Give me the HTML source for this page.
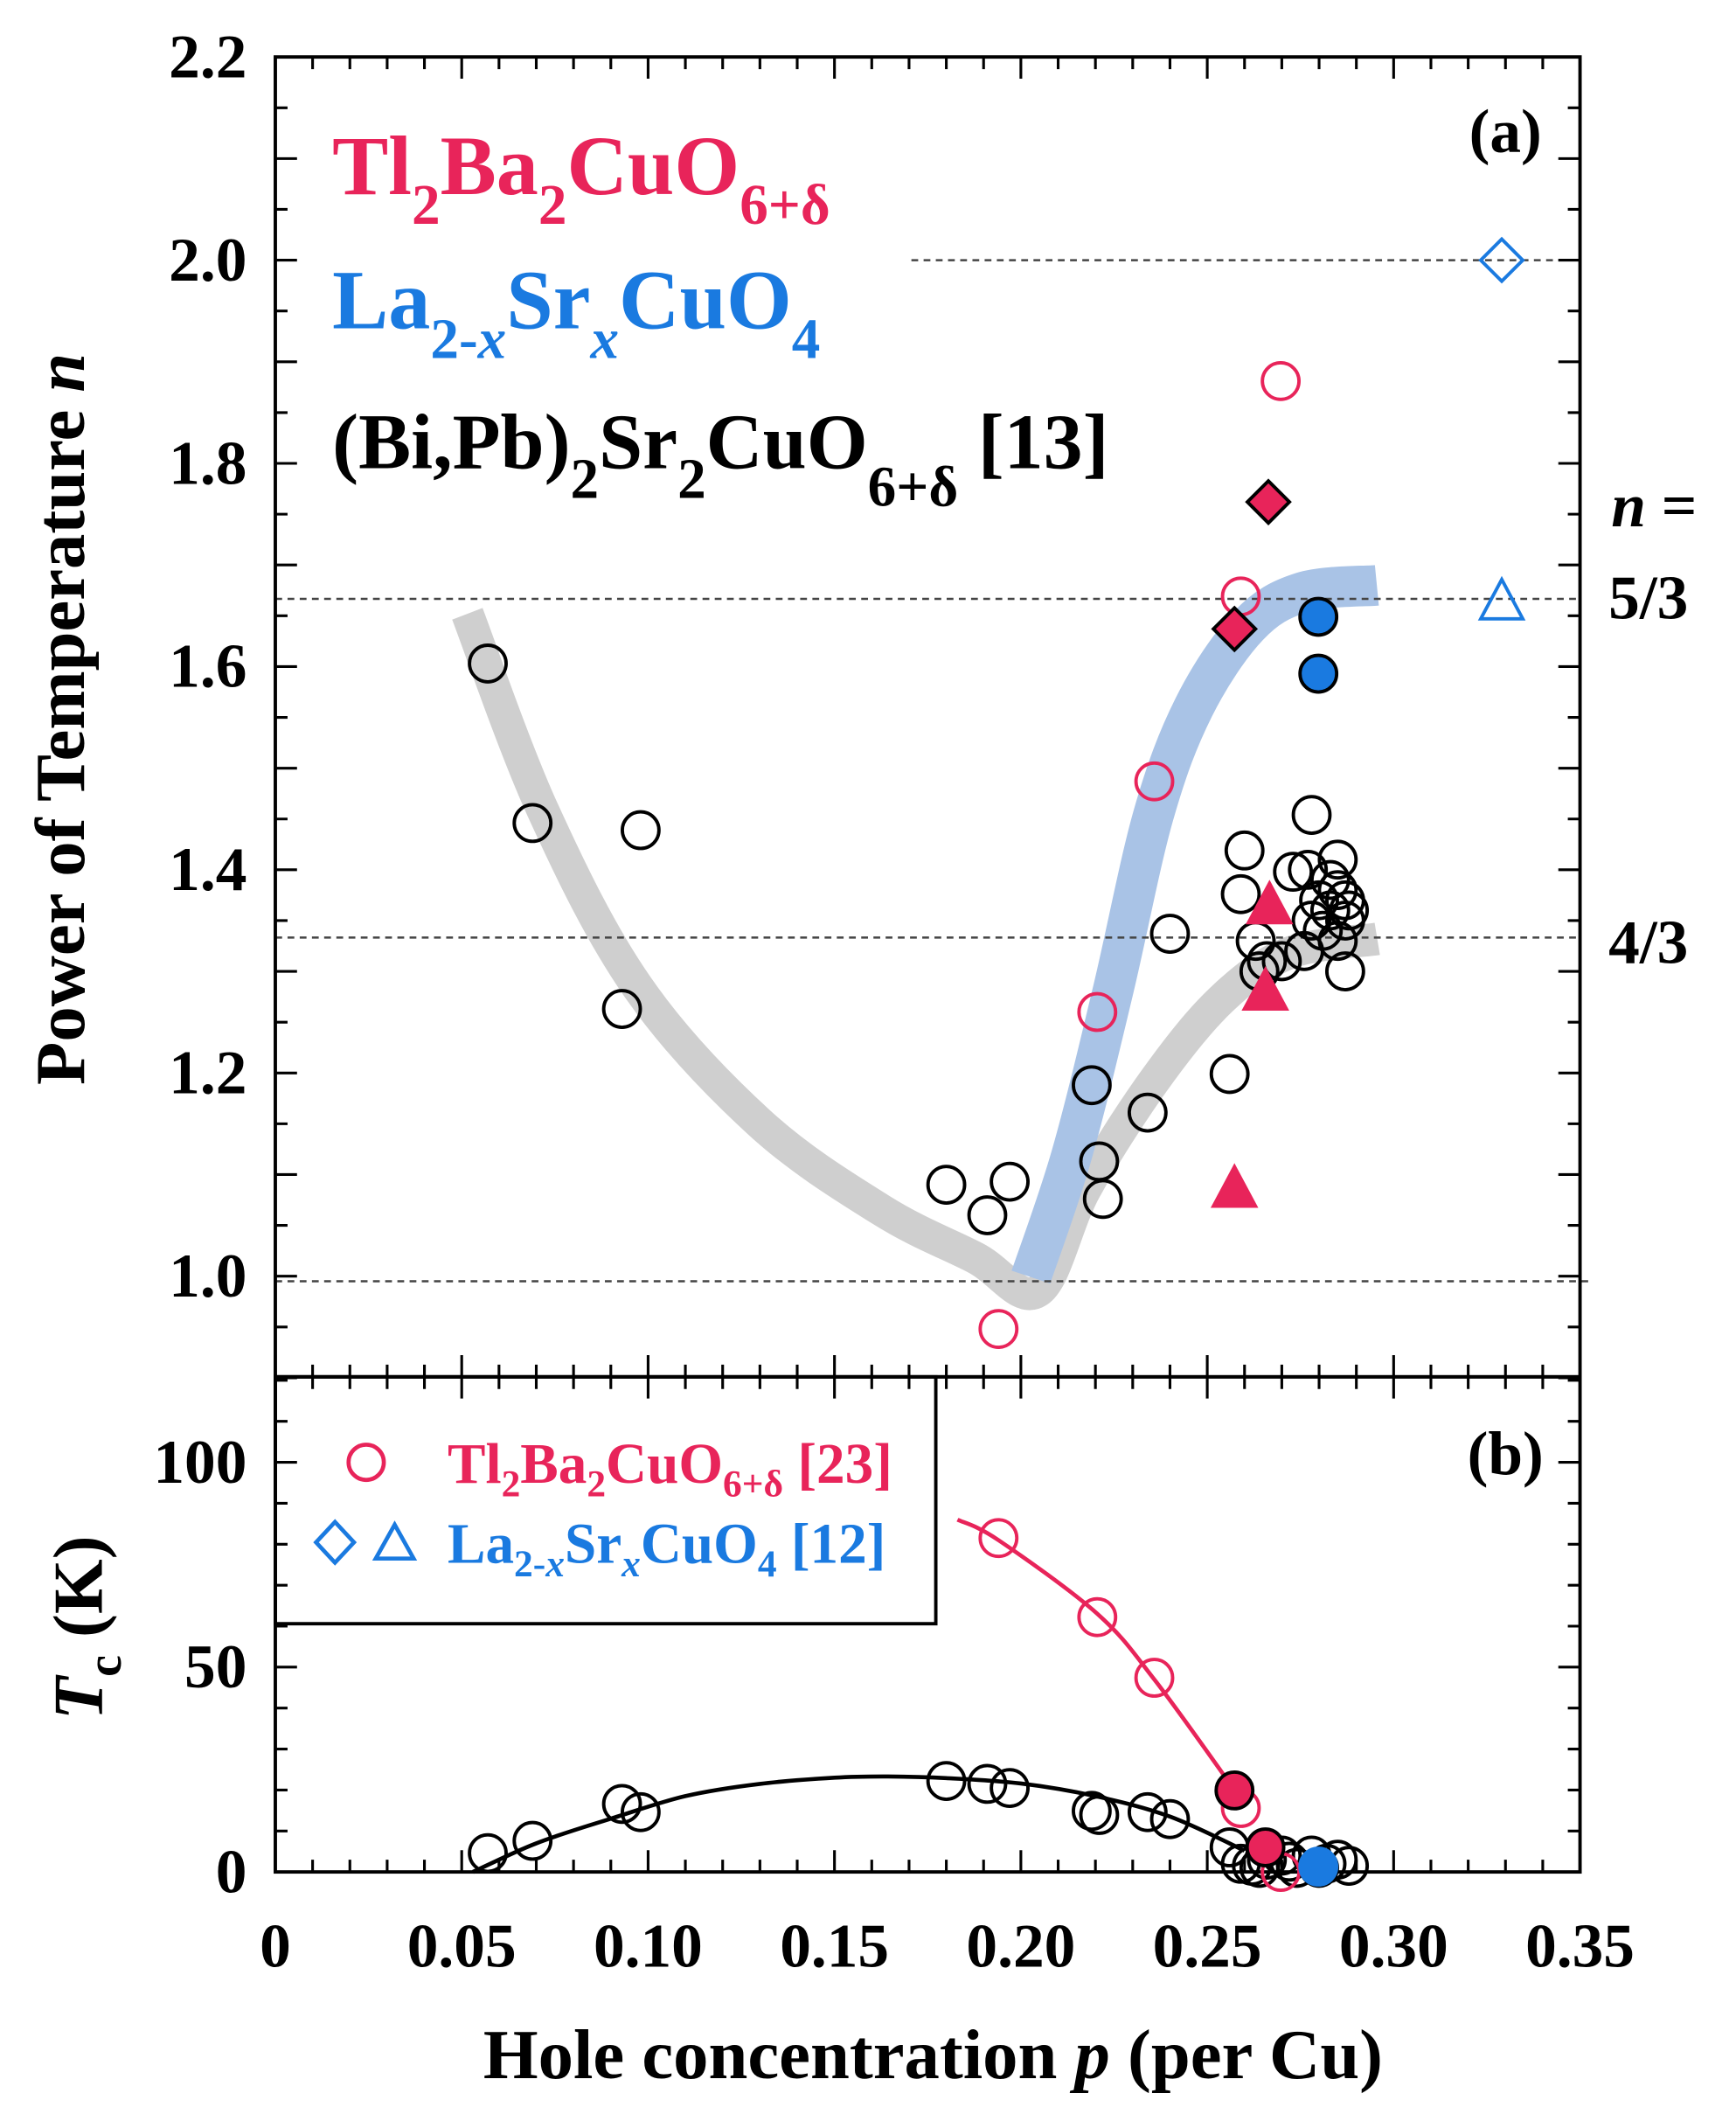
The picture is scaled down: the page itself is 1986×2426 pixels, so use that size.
<!DOCTYPE html>
<html><head><meta charset="utf-8"><style>
html,body{margin:0;padding:0;background:#fff}
svg{display:block}
text{font-family:"Liberation Serif",serif;font-weight:bold}
</style></head><body>
<svg id="chart" width="1986" height="2426" viewBox="0 0 1280 1563.6" xmlns="http://www.w3.org/2000/svg">
<g id="bands"></g>
<g id="lines"></g>
<g id="axes"></g>
<g id="marks"></g>
<g id="labels">
<text x="1110" y="112" font-size="46" text-anchor="middle">(a)</text>
<text x="1110" y="1087" font-size="46" text-anchor="middle">(b)</text>
<text x="245" y="143" font-size="62" fill="#e8245a">Tl<tspan font-size="42" dy="22">2</tspan><tspan dy="-22">Ba</tspan><tspan font-size="42" dy="22">2</tspan><tspan dy="-22">CuO</tspan><tspan font-size="42" dy="22">6+δ</tspan></text>
<text x="245" y="242" font-size="62" fill="#1a7ae0">La<tspan font-size="42" dy="22">2-<tspan font-style="italic">x</tspan></tspan><tspan dy="-22">Sr</tspan><tspan font-size="42" dy="22" font-style="italic">x</tspan><tspan dy="-22">CuO</tspan><tspan font-size="42" dy="22">4</tspan></text>
<text x="245" y="345" font-size="58" fill="#000">(Bi,Pb)<tspan font-size="42" dy="22">2</tspan><tspan dy="-22">Sr</tspan><tspan font-size="42" dy="22">2</tspan><tspan dy="-22">CuO</tspan><tspan font-size="42" dy="28">6+δ</tspan><tspan dy="-28"> [13]</tspan></text>
<text x="1188" y="388" font-size="46"><tspan font-style="italic">n</tspan> =</text>
<text x="1186" y="456" font-size="46">5/3</text>
<text x="1186" y="710" font-size="46">4/3</text>
<text transform="translate(62,530) rotate(-90)" font-size="52" text-anchor="middle">Power of Temperature <tspan font-style="italic">n</tspan></text>
<text transform="translate(75,1200) rotate(-90)" font-size="52" text-anchor="middle"><tspan font-style="italic">T</tspan><tspan font-size="36" dy="14">c</tspan><tspan dy="-14"> (K)</tspan></text>
<text x="688" y="1532" font-size="52" text-anchor="middle">Hole concentration <tspan font-style="italic">p</tspan> (per Cu)</text>
<rect x="203" y="1015" width="487" height="182" fill="none" stroke="#000" stroke-width="2.5"/>
<circle cx="270" cy="1078" r="13" fill="none" stroke="#e8245a" stroke-width="3"/>
<text x="330" y="1093" font-size="42" fill="#e8245a">Tl<tspan font-size="28" dy="10">2</tspan><tspan dy="-10">Ba</tspan><tspan font-size="28" dy="10">2</tspan><tspan dy="-10">CuO</tspan><tspan font-size="28" dy="10">6+δ</tspan><tspan dy="-10"> [23]</tspan></text>
<path d="M247,1122 L261,1137 L247,1152 L233,1137Z" fill="none" stroke="#1a7ae0" stroke-width="3"/>
<path d="M291,1124 L305,1149 L277,1149Z" fill="none" stroke="#1a7ae0" stroke-width="3"/>
<text x="330" y="1152" font-size="42" fill="#1a7ae0">La<tspan font-size="28" dy="10">2-<tspan font-style="italic">x</tspan></tspan><tspan dy="-10">Sr</tspan><tspan font-size="28" dy="10" font-style="italic">x</tspan><tspan dy="-10">CuO</tspan><tspan font-size="28" dy="10">4</tspan><tspan dy="-10"> [12]</tspan></text>
</g>
</svg>
<script>
// ---- data ----
const xTicks = [0,0.05,0.10,0.15,0.20,0.25,0.30,0.35];
const xTickLabels = ["0","0.05","0.10","0.15","0.20","0.25","0.30","0.35"];
const nTicks = [1.0,1.2,1.4,1.6,1.8,2.0,2.2];
const nTickLabels = ["1.0","1.2","1.4","1.6","1.8","2.0","2.2"];
const tcTicks = [0,50,100];
const tcTickLabels = ["0","50","100"];
// top panel (p, n)
const biP = [0.057,0.069,0.098,0.093,0.180,0.191,0.197,0.219,0.221,0.222,0.234,0.240,0.256,0.260,0.259,0.263,0.264,0.266,0.270,0.273,0.278,0.277,0.280,0.283,0.285,0.285,0.287,0.285,0.287,0.278,0.281,0.287,0.283,0.276,0.288];
const biN = [1.603,1.446,1.439,1.263,1.090,1.060,1.093,1.188,1.113,1.076,1.161,1.337,1.199,1.419,1.376,1.33,1.30,1.31,1.31,1.398,1.454,1.40,1.37,1.36,1.38,1.41,1.35,1.33,1.30,1.35,1.34,1.37,1.39,1.32,1.36];
const tlCircP = [0.194,0.2205,0.2358,0.259,0.2697];
const tlCircN = [0.948,1.26,1.487,1.669,1.881];
const tlDiaP = [0.2573,0.2664];
const tlDiaN = [1.637,1.762];
const tlTriP = [0.2573,0.2656,0.2667];
const tlTriN = [1.087,1.281,1.366];
const lsFillP = [0.2798,0.2798];
const lsFillN = [1.649,1.593];
const lsDiaP = [0.329];
const lsDiaN = [2.0];
const lsTriP = [0.329];
const lsTriN = [1.665];
const grayBandP = [0.0515,0.0717,0.0971,0.1299,0.1626,0.1878,0.2045,0.2172,0.2355,0.2537,0.2719,0.2956];
const grayBandN = [1.652,1.459,1.285,1.151,1.065,1.018,0.985,1.085,1.191,1.272,1.318,1.332];
const blueBandP = [0.2027,0.2136,0.2246,0.2355,0.2464,0.2610,0.2755,0.2955];
const blueBandN = [0.999,1.119,1.279,1.453,1.560,1.640,1.673,1.680];
// bottom panel (p, Tc)
const tcTlP = [0.194,0.2205,0.2358,0.259,0.2697];
const tcTlV = [81.5,62.2,47.4,15.6,0];
const tcTlFillP = [0.2573,0.2656];
const tcTlFillV = [19.9,6.0];
const tcLsFillP = [0.2798];
const tcLsFillV = [1.3];
const tcBiP = [0.057,0.069,0.093,0.098,0.180,0.191,0.197,0.219,0.221,0.234,0.240,0.256,0.259,0.262,0.266,0.270,0.274,0.278,0.282,0.285,0.288,0.264,0.272,0.280];
const tcBiV = [4.6,7.6,16.6,14.6,22.2,21.5,20.5,14.9,13.9,14.6,12.9,6.0,2,1.5,3,4,1,4,2,3,1.5,1,2.5,1];
const tcTlCurveP = [0.183,0.194,0.2205,0.2358,0.2573];
const tcTlCurveV = [86,81,63,47,20];
const tcBiCurveP = [0.053,0.07,0.09,0.11,0.13,0.15,0.163,0.18,0.20,0.22,0.24,0.26];
const tcBiCurveV = [0,7,13,18.5,21.5,23,23.3,22.9,21.6,18.5,13.5,5.2];

// ---- scales ----
const X0=203, X1=1165;
const px = p => X0 + (X1-X0)*p/0.35;
const TOP=42, MID=1015, BOT=1380;
const ny = n => TOP + (2.2-n)*749;
const ty = t => BOT - t*3.02;
const NS="http://www.w3.org/2000/svg";
function mk(parent, tag, attrs){const e=document.createElementNS(NS,tag);for(const k in attrs)e.setAttribute(k,attrs[k]);document.getElementById(parent).appendChild(e);return e;}
function smooth(pts){
  let d='M'+pts[0][0].toFixed(1)+','+pts[0][1].toFixed(1);
  for(let i=0;i<pts.length-1;i++){
    const p0=pts[Math.max(i-1,0)],p1=pts[i],p2=pts[i+1],p3=pts[Math.min(i+2,pts.length-1)];
    const c1x=p1[0]+(p2[0]-p0[0])/6,c1y=p1[1]+(p2[1]-p0[1])/6;
    const c2x=p2[0]-(p3[0]-p1[0])/6,c2y=p2[1]-(p3[1]-p1[1])/6;
    d+=`C${c1x.toFixed(1)},${c1y.toFixed(1)} ${c2x.toFixed(1)},${c2y.toFixed(1)} ${p2[0].toFixed(1)},${p2[1].toFixed(1)}`;
  }
  return d;
}

// bands
function band(P,N,color,w,name){
  const d=smooth(P.map((p,i)=>[px(p),ny(N[i])]));
  const e=mk('bands','path',{d:d,fill:'none',stroke:color,'stroke-width':w,'stroke-linejoin':'round'});
  
  
}
band(grayBandP,grayBandN,'#cfcfcf',24,'gray-guide-band');
band(blueBandP,blueBandN,'#a9c3e6',30,'blue-guide-band');

// dashed reference lines
function dash(x1,x2,y,name){const e=mk('lines','line',{x1:x1,x2:x2,y1:y,y2:y,stroke:'#444','stroke-width':1.6,'stroke-dasharray':'5,4'});
  
  }
dash(672,X1,ny(2.0),'ref-line-n2');
dash(X0,X1,ny(5/3),'ref-line-5-3');
dash(X0,X1,ny(4/3),'ref-line-4-3');
dash(X0,1172,ny(0.995),'ref-line-n1');

// axes frames
for(const [y1,y2,nm] of [[TOP,MID,'top-frame'],[MID,BOT,'bottom-frame']]){
  const e=mk('axes','rect',{x:X0,y:y1,width:X1-X0,height:y2-y1,fill:'none',stroke:'#000','stroke-width':2.5});
  
  
}
// ticks
let td='';
for(let i=0;i<=35;i++){const x=px(i*0.01);const L=(i%5===0)?16:9;
  td+=`M${x},${TOP}v${L}M${x},${MID}v${-L}M${x},${MID}v${L}M${x},${BOT}v${-L}`;}
for(let k=0;k<=26;k++){const n=0.9+k*0.05;const y=ny(n);const L=(k%2===0)?16:9;td+=`M${X0},${y}h${L}M${X1},${y}h${-L}`;}
for(let t=10;t<=120;t+=10){const y=ty(t);const L=(t%50===0)?16:9;td+=`M${X0},${y}h${L}M${X1},${y}h${-L}`;}
const tk=mk('axes','path',{d:td,stroke:'#000','stroke-width':2,fill:'none'});


xTicks.forEach((p,i)=>{const e=mk('axes','text',{x:px(p),y:1450,'font-size':46,'text-anchor':'middle'});e.textContent=xTickLabels[i];
  
  });
nTicks.forEach((n,i)=>{const e=mk('axes','text',{x:182,y:ny(n)+15,'font-size':46,'text-anchor':'end'});e.textContent=nTickLabels[i];
  
  });
tcTicks.forEach((t,i)=>{const e=mk('axes','text',{x:182,y:ty(t)+15,'font-size':46,'text-anchor':'end'});e.textContent=tcTickLabels[i];
  
  });

// curves bottom
function curve(P,V,color,w,name){
  const d=smooth(P.map((p,i)=>[px(p),ty(V[i])]));
  const e=mk('lines','path',{d:d,fill:'none',stroke:color,'stroke-width':w,'stroke-linejoin':'round'});
  
  
}
curve(tcBiCurveP,tcBiCurveV,'#000',3,'bi-tc-dome-curve');
curve(tcTlCurveP,tcTlCurveV,'#e8245a',3,'tl-tc-curve');

// markers
const R=13.5;
function marker(shape,x,y,fill,stroke,name){
  let e;
  if(shape==='c') e=mk('marks','circle',{cx:x,cy:y,r:R,fill:fill,stroke:stroke,'stroke-width':2.5});
  else if(shape==='d') e=mk('marks','path',{d:`M${x},${y-R-2}L${x+R+2},${y}L${x},${y+R+2}L${x-R-2},${y}Z`,fill:fill,stroke:stroke,'stroke-width':2.5});
  else e=mk('marks','path',{d:`M${x},${y-R-2}L${x+R+2},${y+R}L${x-R-2},${y+R}Z`,fill:fill,stroke:stroke,'stroke-width':2.5});
  
  
}
const PINK='#e8245a', BLUE='#1a7ae0';
biP.forEach((p,i)=>marker('c',px(p),ny(biN[i]),'none','#000','bi2201-n-point'));
tlCircP.forEach((p,i)=>marker('c',px(p),ny(tlCircN[i]),'none',PINK,'tl2201-n-circle'));
tlDiaP.forEach((p,i)=>marker('d',px(p),ny(tlDiaN[i]),PINK,'#000','tl2201-n-diamond'));
tlTriP.forEach((p,i)=>marker('t',px(p),ny(tlTriN[i]),PINK,PINK,'tl2201-n-triangle'));
lsFillP.forEach((p,i)=>marker('c',px(p),ny(lsFillN[i]),BLUE,'#000','lsco-n-filled'));
lsDiaP.forEach((p,i)=>marker('d',px(p),ny(lsDiaN[i]),'none',BLUE,'lsco-n-diamond'));
lsTriP.forEach((p,i)=>marker('t',px(p),ny(lsTriN[i]),'none',BLUE,'lsco-n-triangle'));
tcBiP.forEach((p,i)=>marker('c',px(p),ty(tcBiV[i]),'none','#000','bi2201-tc-point'));
tcTlP.forEach((p,i)=>marker('c',px(p),ty(tcTlV[i]),'none',PINK,'tl2201-tc-circle'));
tcTlFillP.forEach((p,i)=>marker('c',px(p),ty(tcTlFillV[i]),PINK,'#000','tl2201-tc-filled'));
tcLsFillP.forEach((p,i)=>marker('c',px(p),ty(tcLsFillV[i]),BLUE,BLUE,'lsco-tc-filled'));
</script>
</body></html>
